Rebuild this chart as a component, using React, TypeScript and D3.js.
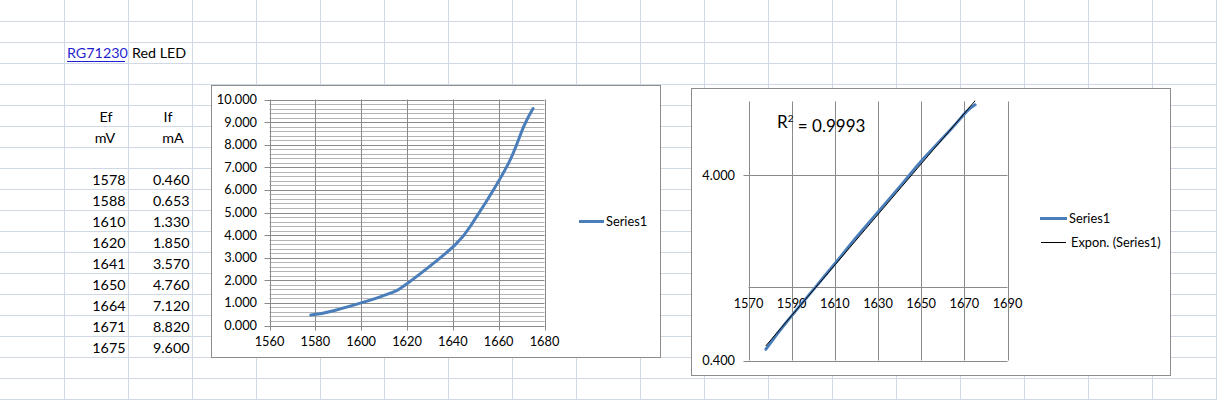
import React from "react";
import * as d3 from "d3";

// ---- data ----
const efMv = [1578, 1588, 1610, 1620, 1641, 1650, 1664, 1671, 1675];
const ifMa = [0.46, 0.653, 1.33, 1.85, 3.57, 4.76, 7.12, 8.82, 9.6];
const chart1XTicks = [1560, 1580, 1600, 1620, 1640, 1660, 1680];
const chart1YTicks = [0, 1, 2, 3, 4, 5, 6, 7, 8, 9, 10];
const chart2XTicks = [1570, 1590, 1610, 1630, 1650, 1670, 1690];
const chart2YTicks = [0.4, 4];
const chart2XAxisCross = 1;
const seriesName = "Series1";
const trendName = "Expon. (Series1)";
const rSquaredValue = "0.9993";
const partNumber = "RG71230";
const partDesc = "Red LED";
const colHeaders = ["Ef", "If"];
const colUnits = ["mV", "mA"];

const FONT = "Lato, 'Open Sans', sans-serif";
const GRID = "#d0d7e5";
const FRAME = "#8c8c8c";
const MAJOR = "#8a8a8a";
const MINOR = "#b4b4b4";
const BLUE = "#4a7ebb";
const TICK_FS = 12.8;

export default function App() {
  const W = 1217, H = 400;

  // spreadsheet grid
  const vLines = d3.range(1, 20).map((k) => 64 * k + 0.5);
  const hLines = d3.range(1, 20).map((k) => 21 * k + 0.5);

  // chart 1 scales
  const x1 = d3.scaleLinear().domain([1560, 1680]).range([269.5, 544.5]);
  const y1 = d3.scaleLinear().domain([0, 10]).range([325.5, 99.5]);
  const minor1 = d3.range(0, 10.0001, 0.2).filter((v) => Math.abs(v - Math.round(v)) > 1e-6);
  const pts = efMv.map((e, i) => [e, ifMa[i]] as [number, number]);
  const line1 = d3
    .line<[number, number]>()
    .x((d) => x1(d[0]))
    .y((d) => y1(d[1]))
    .curve(d3.curveCardinal.tension(0));

  // chart 2 scales
  const x2 = d3.scaleLinear().domain([1570, 1690]).range([748.5, 1007.5]);
  const y2 = d3.scaleLog().domain([0.4, 10]).range([360.5, 101.5]);
  const line2 = d3
    .line<[number, number]>()
    .x((d) => x2(d[0]))
    .y((d) => y2(d[1]))
    .curve(d3.curveCardinal.tension(0));

  // exponential trendline fit: ln y = a + b x
  const lx = efMv;
  const ly = ifMa.map((v) => Math.log(v));
  const mx = d3.mean(lx)!;
  const my = d3.mean(ly)!;
  let sxx = 0, sxy = 0;
  lx.forEach((v, i) => {
    sxx += (v - mx) * (v - mx);
    sxy += (v - mx) * (ly[i] - my);
  });
  const b = sxy / sxx;
  const a = my - b * mx;
  const xmin = d3.min(efMv)!, xmax = d3.max(efMv)!;
  const trendPts = d3.range(0, 41).map((i) => {
    const xv = xmin + ((xmax - xmin) * i) / 40;
    return [xv, Math.exp(a + b * xv)] as [number, number];
  });
  const trendLine = d3
    .line<[number, number]>()
    .x((d) => x2(d[0]))
    .y((d) => y2(d[1]));

  const fmt3 = d3.format(".3f");

  return (
    <svg
      width={W}
      height={H}
      style={{ position: "absolute", left: 0, top: 0, background: "#fff" }}
      fontFamily={FONT}
    >
      <rect x={0} y={0} width={W} height={H} fill="#fff" />
      {/* spreadsheet grid */}
      {vLines.map((x) => (
        <line key={"v" + x} x1={x} x2={x} y1={0} y2={H} stroke={GRID} />
      ))}
      {hLines.map((y) => (
        <line key={"h" + y} x1={0} x2={W} y1={y} y2={y} stroke={GRID} />
      ))}

      {/* cell text */}
      <text x={67} y={58} fontSize={14.3} fill="#1f1fd0">
        {partNumber}
      </text>
      <line x1={67} x2={125} y1={61.5} y2={61.5} stroke="#1f1fd0" />
      <text x={132} y={58} fontSize={14.3} fill="#000">
        {partDesc}
      </text>
      <text x={106} y={121.5} fontSize={14.3} textAnchor="middle">{colHeaders[0]}</text>
      <text x={168} y={121.5} fontSize={14.3} textAnchor="middle">{colHeaders[1]}</text>
      <text x={105} y={143} fontSize={14.3} textAnchor="middle">{colUnits[0]}</text>
      <text x={173} y={143} fontSize={14.3} textAnchor="middle">{colUnits[1]}</text>
      {efMv.map((e, i) => (
        <text key={"e" + i} x={125.5} y={185 + 21 * i} fontSize={14.3} textAnchor="end">
          {e}
        </text>
      ))}
      {ifMa.map((v, i) => (
        <text key={"i" + i} x={189.5} y={185 + 21 * i} fontSize={14.3} textAnchor="end">
          {fmt3(v)}
        </text>
      ))}

      {/* ---------- chart 1 ---------- */}
      <rect x={211.5} y={85.5} width={449} height={272} fill="#fff" stroke={FRAME} />
      {minor1.map((v) => (
        <line key={"m" + v} x1={x1(1560)} x2={x1(1680)} y1={Math.round(y1(v)) + 0.5} y2={Math.round(y1(v)) + 0.5} stroke={MINOR} />
      ))}
      {chart1YTicks.map((v) => (
        <line key={"yt" + v} x1={x1(1560) - 5} x2={x1(1680)} y1={Math.round(y1(v)) + 0.5} y2={Math.round(y1(v)) + 0.5} stroke={MAJOR} />
      ))}
      {chart1XTicks.map((v) => (
        <line key={"xt" + v} x1={Math.round(x1(v)) + 0.5} x2={Math.round(x1(v)) + 0.5} y1={y1(10)} y2={y1(0) + 5} stroke={MAJOR} />
      ))}
      {chart1YTicks.map((v) => (
        <text key={"yl" + v} x={257} y={y1(v)} dy="0.35em" fontSize={TICK_FS} textAnchor="end">
          {fmt3(v)}
        </text>
      ))}
      {chart1XTicks.map((v) => (
        <text key={"xl" + v} x={x1(v)} y={342} dy="0.35em" fontSize={TICK_FS} textAnchor="middle">
          {v}
        </text>
      ))}
      <path d={line1(pts) || ""} fill="none" stroke={BLUE} strokeWidth={3} strokeLinecap="round" />
      <line x1={579} x2={604} y1={221.5} y2={221.5} stroke={BLUE} strokeWidth={3} />
      <text x={606} y={222} dy="0.35em" fontSize={TICK_FS}>{seriesName}</text>

      {/* ---------- chart 2 ---------- */}
      <defs>
        <clipPath id="plot2">
          <rect x={748} y={100} width={262} height={262} />
        </clipPath>
      </defs>
      <rect x={691.5} y={88.5} width={479} height={287} fill="#fff" stroke={FRAME} />
      {chart2YTicks.map((v) => (
        <line key={"g2y" + v} x1={x2(1570) - 5} x2={x2(1690)} y1={Math.round(y2(v)) + 0.5} y2={Math.round(y2(v)) + 0.5} stroke={MAJOR} />
      ))}
      <line x1={x2(1570)} x2={x2(1690)} y1={Math.round(y2(chart2XAxisCross)) + 0.5} y2={Math.round(y2(chart2XAxisCross)) + 0.5} stroke={MAJOR} />
      {chart2XTicks.map((v) => (
        <line key={"g2x" + v} x1={Math.round(x2(v)) + 0.5} x2={Math.round(x2(v)) + 0.5} y1={y2(10)} y2={y2(0.4)} stroke={MAJOR} />
      ))}
      {chart2YTicks.map((v) => (
        <text key={"y2l" + v} x={735} y={y2(v)} dy="0.35em" fontSize={TICK_FS} textAnchor="end">
          {fmt3(v)}
        </text>
      ))}
      {chart2XTicks.map((v) => (
        <text key={"x2l" + v} x={x2(v)} y={304} dy="0.35em" fontSize={TICK_FS} textAnchor="middle">
          {v}
        </text>
      ))}
      <g clipPath="url(#plot2)">
        <path d={line2(pts) || ""} fill="none" stroke={BLUE} strokeWidth={3} strokeLinecap="round" />
        <path d={trendLine(trendPts) || ""} fill="none" stroke="#000" strokeWidth={1} />
      </g>
      <text x={777} y={122} dy="0.35em" fontSize={17}>
        R<tspan fontSize={10} dy="-0.6em">2</tspan>
        <tspan dy="0.6em"> = {rSquaredValue}</tspan>
      </text>
      <line x1={1040} x2={1067} y1={218.5} y2={218.5} stroke={BLUE} strokeWidth={3} />
      <text x={1069} y={219} dy="0.35em" fontSize={TICK_FS}>{seriesName}</text>
      <line x1={1041} x2={1066} y1={242.5} y2={242.5} stroke="#000" strokeWidth={1} />
      <text x={1071} y={243} dy="0.35em" fontSize={TICK_FS}>{trendName}</text>
    </svg>
  );
}
